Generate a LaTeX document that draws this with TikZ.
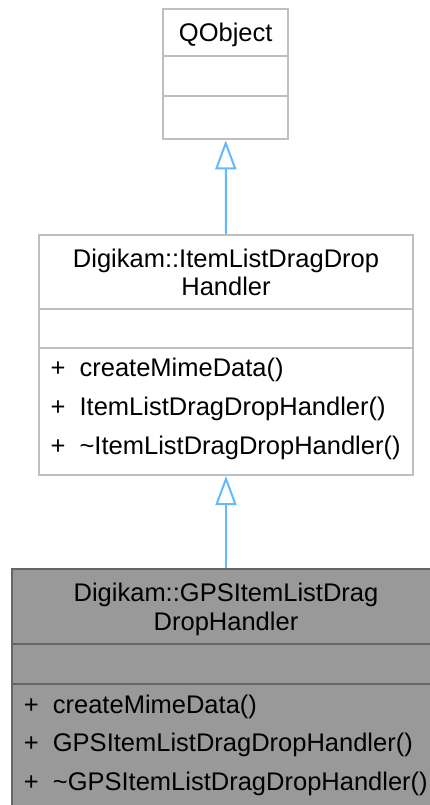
\documentclass[tikz,border=0pt]{standalone}
\usepackage{fontspec}
\setmainfont{Liberation Sans}
\usetikzlibrary{arrows.meta}
\definecolor{boxgray}{HTML}{BFBFBF}
\definecolor{nodegray}{HTML}{999999}
\definecolor{nodeedge}{HTML}{666666}
\definecolor{edgeblue}{HTML}{63B8FF}
\tikzset{
  classbox/.style={draw=boxgray, fill=white, line width=2pt, inner sep=0pt},
  mainbox/.style={classbox, draw=nodeedge, fill=nodegray},
  title/.style={anchor=base, inner sep=0pt, align=center, font=\fontsize{25.5}{28.5}\selectfont},
  member/.style={anchor=base west, inner sep=0pt, font=\fontsize{25.5}{30}\selectfont},
  inherit/.style={draw=edgeblue, line width=2pt, -{Triangle[open, length=29pt, width=21pt]}},
}
\newcommand{\pub}[1]{\makebox[29pt][l]{+}#1}

\begin{document}
\begin{tikzpicture}[x=1pt, y=-1pt]
  \useasboundingbox (0,0) rectangle (430,805);
  \clip (0,0) rectangle (430,805);
  % QObject
  \node[classbox, minimum width=124.7pt, minimum height=130pt] (qobj) at (225.7,74.3) {};
  \draw[boxgray, line width=2pt] (163.3,56) -- (288,56) (163.3,96) -- (288,96);
  \node[title] (qobjt) at (225.7,42) {QObject};
  % ItemListDragDropHandler
  \node[classbox, minimum width=373.4pt, minimum height=240pt] (itemh) at (226,355) {};
  \draw[boxgray, line width=2pt] (39.3,308.5) -- (412.7,308.5) (39.3,348.3) -- (412.7,348.3);
  \node[title] (itemht) at (226,295.5) {Digikam::ItemListDragDrop\\Handler};
  \node[member] (itemm1) at (50.4,376) {\pub{createMimeData()}};
  \node[member] (itemm2) at (50.4,415) {\pub{ItemListDragDropHandler()}};
  \node[member] (itemm3) at (50.4,454) {\pub{\textasciitilde ItemListDragDropHandler()}};
  % GPSItemListDragDropHandler
  \node[mainbox, minimum width=428pt, minimum height=241pt] (gpsh) at (226,689.5) {};
  \draw[nodeedge, line width=2pt] (12,643.5) -- (440,643.5) (12,684) -- (440,684);
  \node[title] (gpsht) at (226,630) {Digikam::GPSItemListDrag\\DropHandler};
  \node[member] (gpsm1) at (23.7,713) {\pub{createMimeData()}};
  \node[member] (gpsm2) at (23.7,751.5) {\pub{GPSItemListDragDropHandler()}};
  \node[member] (gpsm3) at (23.7,790) {\pub{\textasciitilde GPSItemListDragDropHandler()}};
  % inheritance
  \draw[inherit] (itemh.north) -- (qobj.south);
  \draw[inherit] (gpsh.north) -- (itemh.south);
\end{tikzpicture}
\end{document}
